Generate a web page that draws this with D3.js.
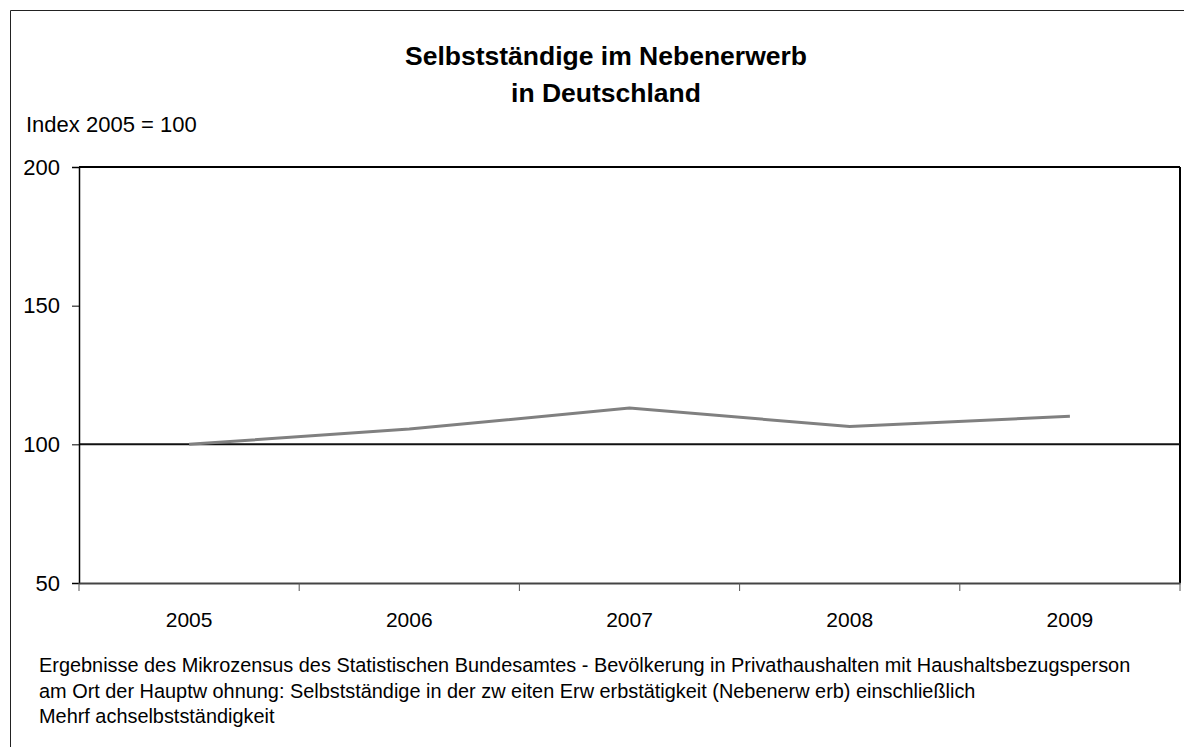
<!DOCTYPE html>
<html><head><meta charset="utf-8">
<script src="https://cdn.jsdelivr.net/npm/d3@7"></script>
<style>html,body{margin:0;background:#fff;overflow:hidden}svg{display:block;font-family:"Liberation Sans",Arial,sans-serif}</style>
</head><body>
<svg id="c" width="1184" height="747"></svg>
<script>
const years = ["2005","2006","2007","2008","2009"];
const values = [100, 105.5, 113.1, 106.4, 110.1];
const yTicks = [50, 100, 150, 200];
const titleLines = ["Selbstständige im Nebenerwerb","in Deutschland"];
const yLabel = "Index 2005 = 100";
const noteLines = [
 "Ergebnisse des Mikrozensus des Statistischen Bundesamtes - Bevölkerung in Privathaushalten mit Haushaltsbezugsperson",
 "am Ort der Hauptw ohnung: Selbstständige in der zw eiten Erw erbstätigkeit (Nebenerw erb) einschließlich",
 "Mehrf achselbstständigkeit"
];

const svg = d3.select("#c");
const L = 79, R = 1180, T = 167, B = 583;
// outer frame (top and left visible)
svg.append("path").attr("d","M10.5,760 V10.5 H1200").attr("fill","none").attr("stroke","#222").attr("stroke-width",1);

const x = d3.scaleBand().domain(years).range([L,R]).padding(0);
const y = d3.scaleLinear().domain([50,200]).range([B,T]);

svg.selectAll("text.title").data(titleLines).join("text").attr("class","title")
  .attr("x",606).attr("y",(d,i)=>65+i*37).attr("text-anchor","middle")
  .attr("font-size",26.5).attr("font-weight","bold").attr("fill","#000").text(d=>d);

svg.append("text").attr("x",26).attr("y",132).attr("font-size",22).text(yLabel);

// plot frame top & right
svg.append("line").attr("x1",L).attr("x2",R).attr("y1",T).attr("y2",T).attr("stroke","#000").attr("stroke-width",2);
svg.append("line").attr("x1",R).attr("x2",R).attr("y1",T).attr("y2",B).attr("stroke","#000").attr("stroke-width",2);

// 100 reference line
svg.append("line").attr("x1",L).attr("x2",R).attr("y1",y(100)).attr("y2",y(100)).attr("stroke","#111").attr("stroke-width",2);

// y axis
const ya = svg.append("g").attr("transform",`translate(${L},0)`)
  .call(d3.axisLeft(y).tickValues(yTicks).tickSize(7).tickPadding(12).tickFormat(d3.format("d")));
ya.select(".domain").attr("stroke","#000").attr("stroke-width",1.5);
ya.selectAll(".tick line").attr("stroke","#000");
ya.selectAll(".tick text").attr("font-size",22).attr("fill","#000").attr("font-family","Liberation Sans, Arial, sans-serif");

// x axis
const xa = svg.append("g").attr("transform",`translate(0,${B})`)
  .call(d3.axisBottom(x).tickSize(0).tickPadding(29));
xa.select(".domain").attr("stroke","#444").attr("stroke-width",2);
xa.selectAll(".tick text").attr("font-size",21).attr("fill","#000").attr("font-family","Liberation Sans, Arial, sans-serif");
const bounds = years.map(d=>x(d)).concat([R]);
svg.selectAll("line.xt").data(bounds).join("line").attr("class","xt")
  .attr("x1",d=>d).attr("x2",d=>d).attr("y1",B).attr("y2",B+8).attr("stroke","#555").attr("stroke-width",1);

// data line
const line = d3.line().x((d,i)=>x(years[i])+x.bandwidth()/2).y(d=>y(d));
svg.append("path").datum(values).attr("d",line).attr("fill","none")
  .attr("stroke","#808080").attr("stroke-width",3);

svg.selectAll("text.note").data(noteLines).join("text").attr("class","note")
  .attr("x",39).attr("y",(d,i)=>672+i*25.5).attr("font-size",19.9).attr("fill","#000").text(d=>d);
</script>
</body></html>
